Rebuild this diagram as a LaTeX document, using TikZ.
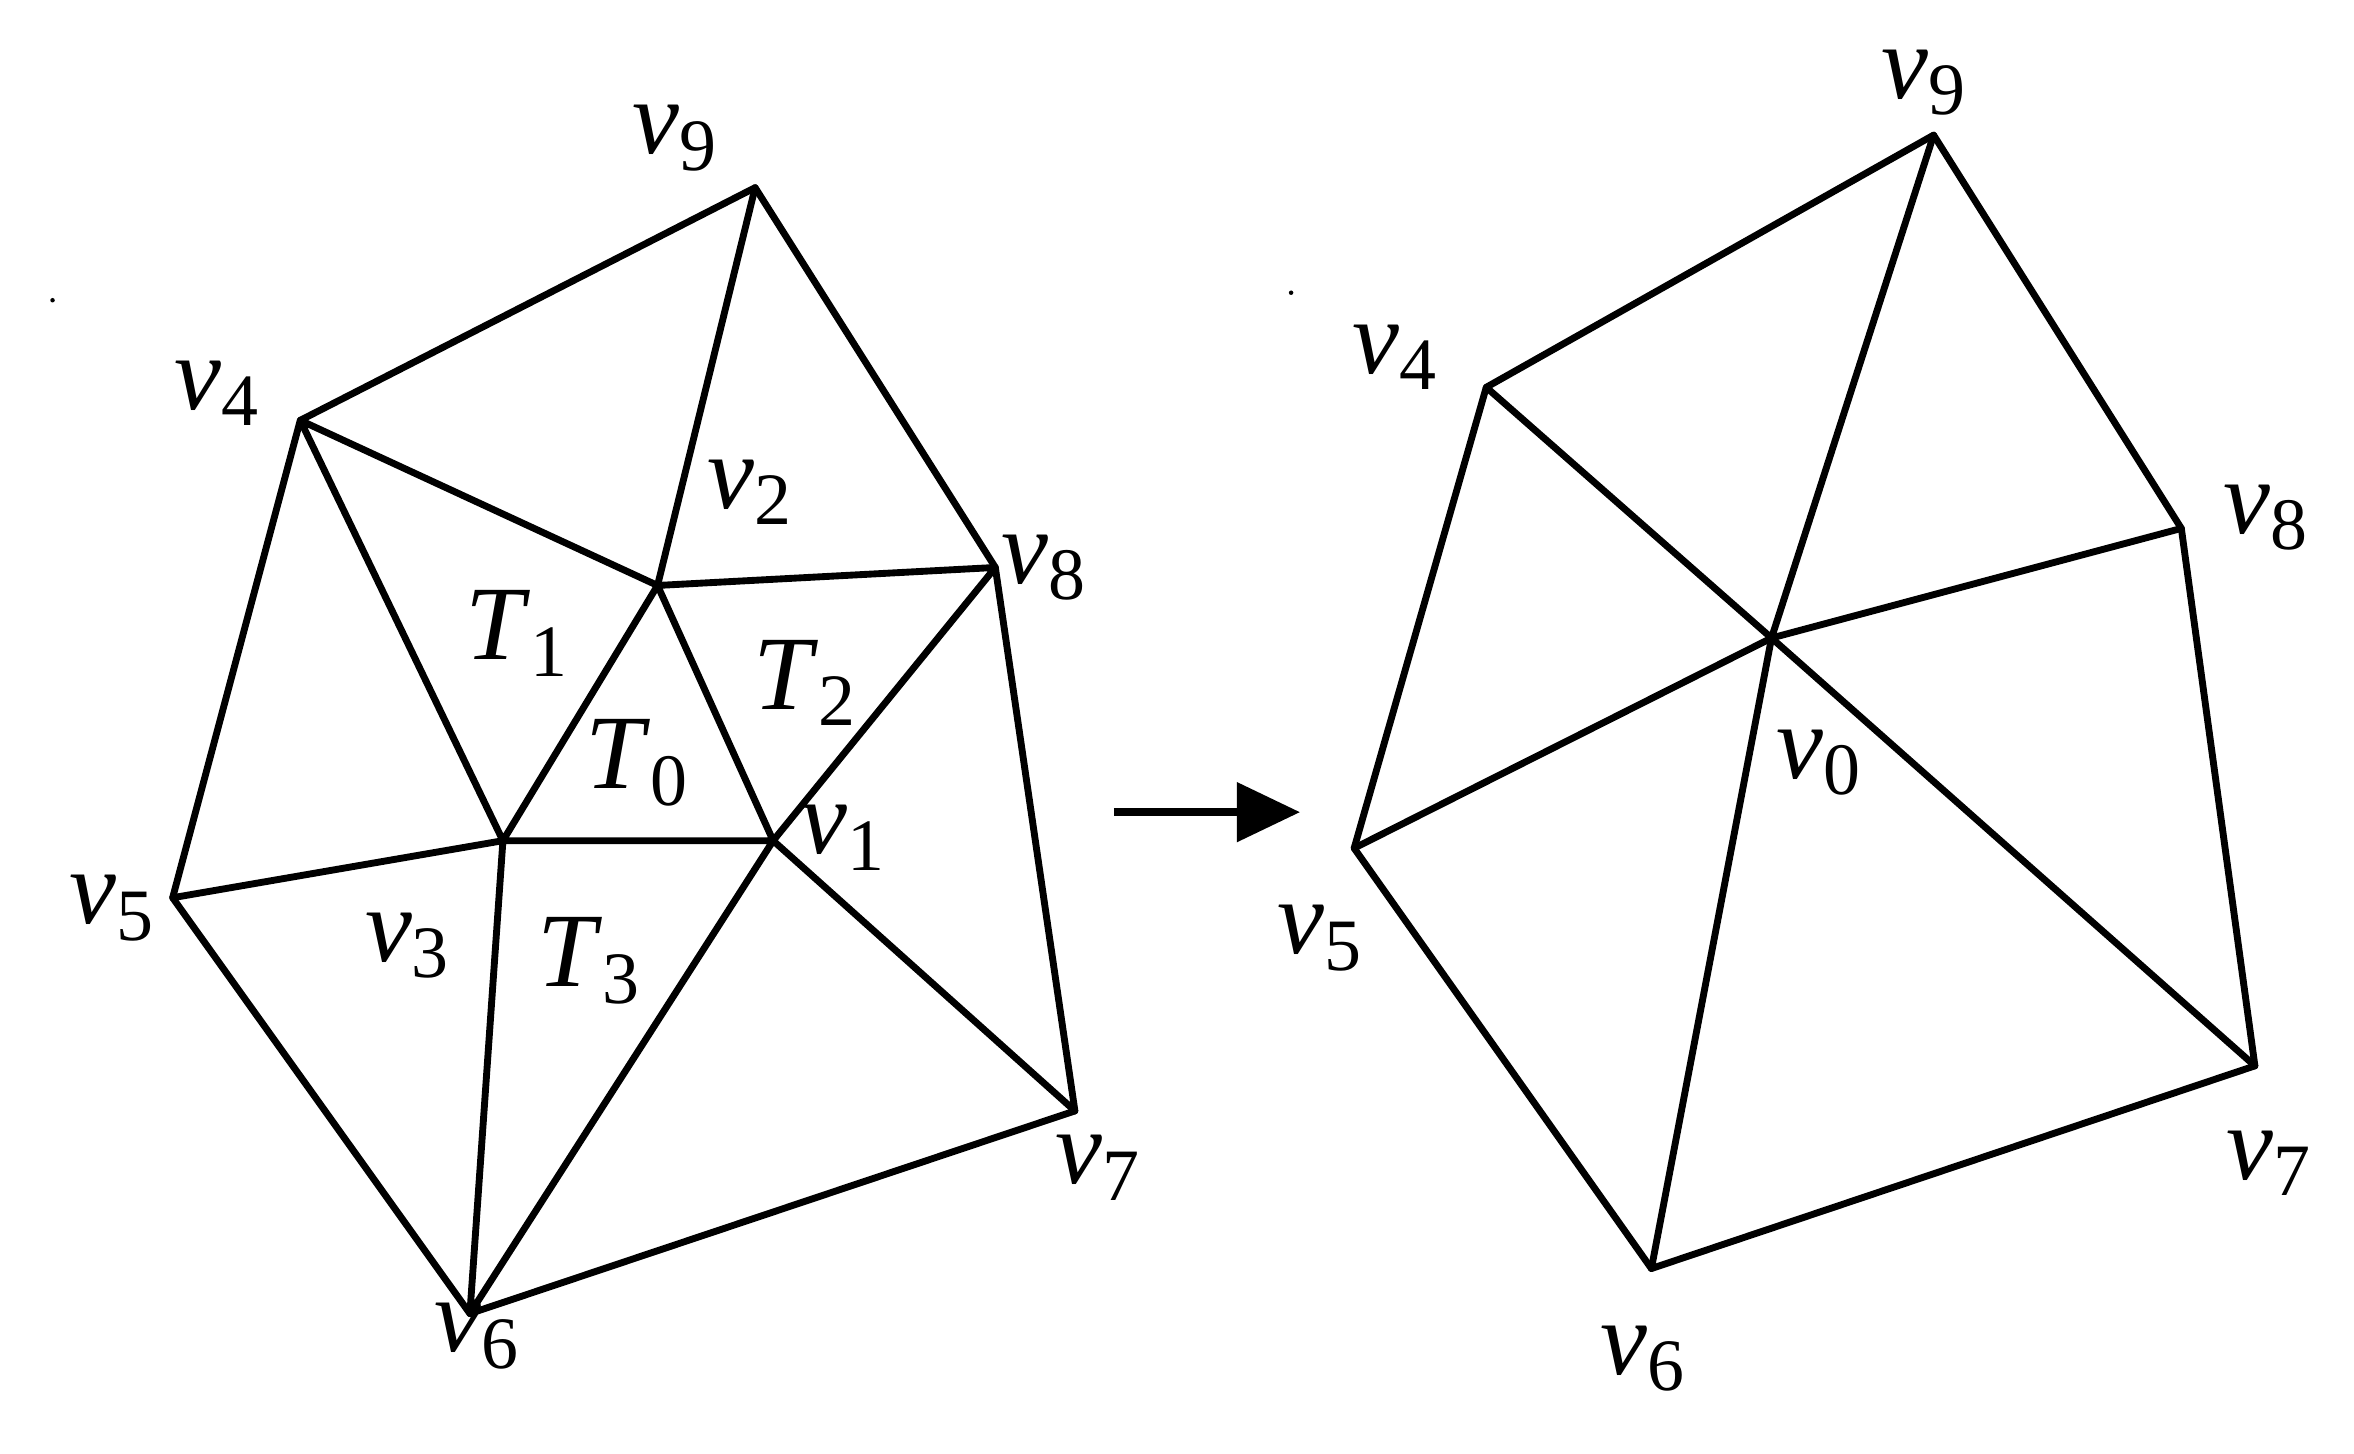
\documentclass[tikz,border=0pt]{standalone}
\usepackage{fontspec}
\setmainfont{Liberation Serif}
\usetikzlibrary{arrows.meta}
\newcommand{\lv}[2]{\textit{#1}\textsubscript{\upshape #2}}
\begin{document}
\begin{tikzpicture}[x=0.01cm,y=-0.01cm,
  edge/.style={line width=1.3pt,line cap=round,line join=round},
  lab/.style={font=\fontsize{20}{22}\selectfont, inner sep=0pt}]
\useasboundingbox (0,0) rectangle (1568,968);
% left mesh
\coordinate (a9) at (503,125); \coordinate (a4) at (200,280);
\coordinate (a2) at (438,390); \coordinate (a8) at (663,378);
\coordinate (a3) at (335,560); \coordinate (a1) at (515,560);
\coordinate (a5) at (115,598); \coordinate (a7) at (716,740);
\coordinate (a6) at (313,875);
\draw[edge] (a4)--(a9)--(a8)--(a7)--(a6)--(a5)--(a4);
\draw[edge] (a9)--(a2) (a4)--(a2)--(a8) (a4)--(a3) (a2)--(a3) (a2)--(a1)--(a8)
  (a3)--(a1) (a5)--(a3)--(a6) (a1)--(a6) (a1)--(a7);
\node[lab] at (450,92) {\lv{v}{9}};
\node[lab] at (145,262) {\lv{v}{4}};
\node[lab] at (500,328) {\lv{v}{2}};
\node[lab] at (696,378) {\lv{v}{8}};
\node[lab] at (75,605) {\lv{v}{5}};
\node[lab] at (272,630) {\lv{v}{3}};
\node[lab] at (562,558) {\lv{v}{1}};
\node[lab] at (732,778) {\lv{v}{7}};
\node[lab] at (318,890) {\lv{v}{6}};
\node[lab] at (345,422) {\lv{T}{1}};
\node[lab] at (537,455) {\lv{T}{2}};
\node[lab] at (425,508) {\lv{T}{0}};
\node[lab] at (393,640) {\lv{T}{3}};
% arrow
\coordinate (arA) at (742,541); \coordinate (arB) at (866,541);
\draw[line width=1.6pt,-{Triangle[length=12pt,width=11pt]}] (arA)--(arB);
% dots
\fill (35,200) circle (1.5); \fill (860,195) circle (1.5);
% right mesh
\coordinate (b9) at (1288,90); \coordinate (b4) at (990,258);
\coordinate (b8) at (1453,352); \coordinate (b0) at (1180,425);
\coordinate (b5) at (902,565); \coordinate (b7) at (1502,710);
\coordinate (b6) at (1100,845);
\draw[edge] (b4)--(b9)--(b8)--(b7)--(b6)--(b5)--(b4);
\foreach \v in {b4,b9,b8,b7,b6,b5} \draw[edge] (b0)--(\v);
\node[lab] at (1282,55) {\lv{v}{9}};
\node[lab] at (930,238) {\lv{v}{4}};
\node[lab] at (1510,345) {\lv{v}{8}};
\node[lab] at (1212,508) {\lv{v}{0}};
\node[lab] at (880,625) {\lv{v}{5}};
\node[lab] at (1512,775) {\lv{v}{7}};
\node[lab] at (1095,905) {\lv{v}{6}};
\end{tikzpicture}
\end{document}
